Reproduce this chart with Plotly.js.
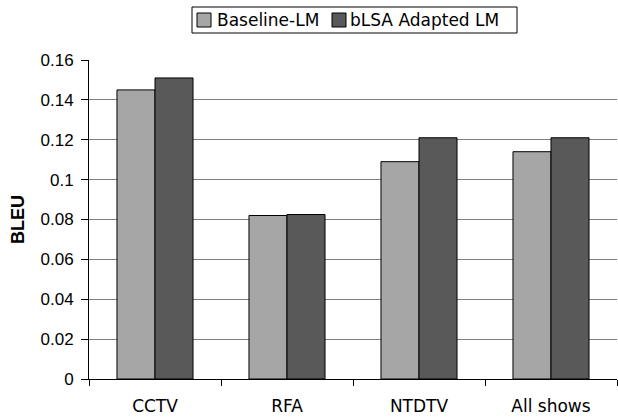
<!DOCTYPE html>
<html>
<head>
<meta charset="utf-8">
<script src="https://cdn.plot.ly/plotly-3.0.1.min.js"></script>
<style>html,body{margin:0;padding:0;background:#fff;}#chart{width:618px;height:420px;}</style>
</head>
<body>
<div id="chart"></div>
<script>
const categories = ["CCTV", "RFA", "NTDTV", "All shows"];
const seriesNames = ["Baseline-LM", "bLSA Adapted LM"];
const seriesColors = ["#a6a6a6", "#595959"];
const baselineLM = [0.145, 0.082, 0.109, 0.114];
const bLSAAdaptedLM = [0.151, 0.0825, 0.121, 0.121];
const yTickVals = [0, 0.02, 0.04, 0.06, 0.08, 0.1, 0.12, 0.14, 0.16];
const yTickText = ["0", "0.02", "0.04", "0.06", "0.08", "0.1", "0.12", "0.14", "0.16"];

const W = 618, H = 420;
const M = {l: 89, r: 1, t: 60, b: 41};
const px = x => (x - M.l) / (W - M.l - M.r);
const py = y => (H - M.b - y) / (H - M.t - M.b);

const traces = [
  {type: "bar", name: seriesNames[0], x: categories, y: baselineLM,
   marker: {color: seriesColors[0], line: {color: "#000000", width: 1}}},
  {type: "bar", name: seriesNames[1], x: categories, y: bLSAAdaptedLM,
   marker: {color: seriesColors[1], line: {color: "#000000", width: 1}}}
];

// custom legend (box, swatches, labels)
const legendShapes = [
  {type: "rect", xref: "paper", yref: "paper", x0: px(192), x1: px(517), y0: py(33), y1: py(7),
   line: {color: "#000000", width: 1}, fillcolor: "#ffffff", layer: "above"},
  {type: "rect", xref: "paper", yref: "paper", x0: px(197), x1: px(211), y0: py(27), y1: py(13),
   line: {color: "#000000", width: 1}, fillcolor: seriesColors[0], layer: "above"},
  {type: "rect", xref: "paper", yref: "paper", x0: px(332), x1: px(346), y0: py(27), y1: py(13),
   line: {color: "#000000", width: 1}, fillcolor: seriesColors[1], layer: "above"}
];
const legendAnn = [
  {xref: "paper", yref: "paper", x: px(215), y: py(20.5), xanchor: "left", yanchor: "middle",
   text: seriesNames[0], showarrow: false,
   font: {family: "DejaVu Sans", size: 17, color: "#000000"}},
  {xref: "paper", yref: "paper", x: px(348), y: py(20.5), xanchor: "left", yanchor: "middle",
   text: seriesNames[1], showarrow: false,
   font: {family: "DejaVu Sans", size: 17, color: "#000000"}}
];

const layout = {
  width: W, height: H,
  margin: {l: M.l, r: M.r, t: M.t, b: M.b, pad: 0},
  paper_bgcolor: "#ffffff", plot_bgcolor: "#ffffff",
  barmode: "group", bargap: 0.424, bargroupgap: 0,
  font: {family: "DejaVu Sans", size: 17, color: "#000000"},
  showlegend: false,
  shapes: legendShapes,
  annotations: legendAnn,
  xaxis: {type: "category", showline: true, linecolor: "#000000", linewidth: 1,
          ticks: "outside", tickson: "boundaries", ticklen: 6, tickcolor: "#000000",
          showgrid: false, zeroline: false, ticklabelstandoff: 12,
          tickfont: {family: "DejaVu Sans", size: 17, color: "#000000"}},
  yaxis: {range: [0, 0.16], tickvals: yTickVals, ticktext: yTickText,
          showline: true, linecolor: "#000000", linewidth: 1,
          ticks: "outside", ticklen: 7, tickcolor: "#000000", ticklabelstandoff: 4,
          showgrid: true, gridcolor: "#808080", gridwidth: 1, zeroline: false,
          tickfont: {family: "Liberation Sans", size: 17, color: "#000000"},
          title: {text: "<b>BLEU</b>", standoff: 11,
                  font: {family: "Liberation Sans", size: 18, color: "#000000"}}}
};

Plotly.newPlot("chart", traces, layout, {displayModeBar: false, staticPlot: true});
</script>
</body>
</html>
